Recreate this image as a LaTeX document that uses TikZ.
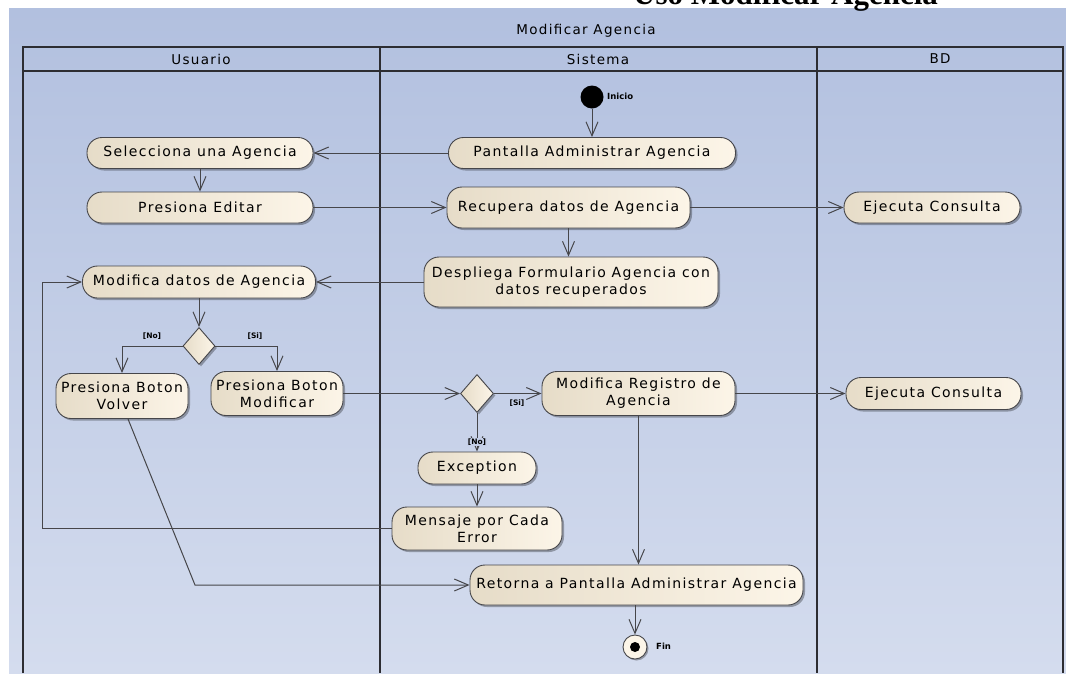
\documentclass[tikz,border=0pt]{standalone}
\usepackage{fontspec}
\newfontfamily\uifont[LetterSpace=10]{DejaVu Sans}
\newfontfamily\tagfont{DejaVu Sans}
\newfontfamily\titlefont{Liberation Serif}
\usetikzlibrary{arrows.meta,shapes.geometric,shadows}
\definecolor{bgtop}{RGB}{178,192,223}
\definecolor{bgbot}{RGB}{212,220,238}
\definecolor{bgmid}{RGB}{196,206,230}
\definecolor{edge}{RGB}{70,70,74}
\definecolor{laneink}{RGB}{45,45,50}
\definecolor{creamL}{RGB}{230,220,200}
\definecolor{creamR}{RGB}{252,245,232}
\begin{document}
\begin{tikzpicture}[x=1pt,y=-1pt,
  act/.style={draw=edge, line width=0.9pt, rounded corners=15pt,
    left color=creamL, right color=creamR,
    drop shadow={shadow xshift=2pt, shadow yshift=-2pt, fill=black, opacity=0.3},
    font=\uifont\fontsize{14}{17}\selectfont, inner sep=1pt, align=center, text=black},
  dec/.style={diamond, draw=edge, line width=0.9pt, inner sep=0pt,
    left color=creamL, right color=creamR,
    drop shadow={shadow xshift=2pt, shadow yshift=-2pt, fill=black, opacity=0.3}},
  flow/.style={draw=edge, line width=1pt, -{Straight Barb[length=14pt,width=12pt]}},
  lane/.style={draw=laneink, line width=1.2pt},
  head/.style={font=\uifont\fontsize{13.5}{16}\selectfont, inner sep=0pt},
  guard/.style={font=\tagfont\bfseries\fontsize{7.5}{9}\selectfont, inner sep=0.6pt},
  mini/.style={font=\tagfont\bfseries\fontsize{8.5}{10}\selectfont, inner sep=0pt}]

\useasboundingbox (0,0) rectangle (1066,673);
\clip (0,0) rectangle (1066,673);
\fill[white] (0,0) rectangle (1066,673);

% frame background
\shade[top color=bgtop, bottom color=bgbot] (9,8) rectangle (1066,673);

% document heading, cut by the top edge
\node[anchor=base west, inner sep=0pt,
  font=\titlefont\bfseries\fontsize{31}{34}\selectfont] (casetitle) at (633,4)
  {Uso Modificar Agencia};

% frame title and swimlanes
\node[head] (frametitle) at (586,31) {Modificar Agencia};
\draw[lane] (23,673) -- (23,47) -- (1063,47) -- (1063,673);
\draw[lane] (23,71) -- (1063,71);
\draw[lane] (380,47) -- (380,673);
\draw[lane] (817,47) -- (817,673);
\node[head] (laneU) at (201,59) {Usuario};
\node[head] (laneS) at (598,59) {Sistema};
\node[head] (laneB) at (940,59) {BD};

% start and end
\node[circle, fill=black, minimum size=23pt, inner sep=0pt] (start) at (592,97) {};
\node[mini, anchor=west] (startlbl) at (607,96) {Inicio};
\node[circle, draw=edge, line width=0.9pt, fill=creamR, minimum size=24pt, inner sep=0pt,
  drop shadow={shadow xshift=1.5pt, shadow yshift=-1.5pt, fill=black, opacity=0.3},
  path picture={\fill[black] (path picture bounding box.center) circle (5pt);}] (fin) at (635,647) {};
\node[mini, anchor=west] (finlbl) at (656,646) {Fin};

% activities
\node[act, minimum width=287, minimum height=31] (pant) at (592,153) {Pantalla Administrar Agencia};
\node[act, minimum width=226, minimum height=31] (sel) at (200,153) {Selecciona una Agencia};
\node[act, minimum width=226, minimum height=31] (edit) at (200,207.5) {Presiona Editar};
\node[act, minimum width=243, minimum height=41] (recu) at (568.5,207.5) {Recupera datos de Agencia};
\node[act, minimum width=176, minimum height=31] (ej1) at (932,207.5) {Ejecuta Consulta};
\node[act, minimum width=294, minimum height=50] (desp) at (571,282) {Despliega Formulario Agencia con\\datos recuperados};
\node[act, minimum width=233, minimum height=32] (moddat) at (199,282) {Modifica datos de Agencia};
\node[dec, minimum width=32, minimum height=37] (dec1) at (199,346) {};
\node[act, minimum width=132, minimum height=45] (volver) at (122,396) {Presiona Boton\\Volver};
\node[act, minimum width=132, minimum height=44] (modbtn) at (277,393.5) {Presiona Boton\\Modificar};
\node[dec, minimum width=33, minimum height=38] (dec2) at (477,393.5) {};
\node[act, minimum width=193, minimum height=44] (modreg) at (638.5,393.5) {Modifica Registro de\\Agencia};
\node[act, minimum width=175, minimum height=32] (ej2) at (933.5,393.5) {Ejecuta Consulta};
\node[act, minimum width=118, minimum height=32] (exc) at (477,468) {Exception};
\node[act, minimum width=170, minimum height=43] (mens) at (477,528.5) {Mensaje por Cada\\Error};
\node[act, minimum width=333, minimum height=40] (ret) at (636.5,585) {Retorna a Pantalla Administrar Agencia};

% flows
\draw[flow] (start.south) -- (start.south |- pant.north);
\draw[flow] (pant) -- (sel);
\draw[flow] (sel) -- (edit);
\draw[flow] (edit) -- (recu);
\draw[flow] (recu) -- (ej1);
\draw[flow] (recu.south) -- (recu.south |- desp.north);
\draw[flow] (desp) -- (moddat);
\draw[flow] (moddat) -- (dec1);
\draw[flow] (dec1.west) -| (volver.north);
\draw[flow] (dec1.east) -| (modbtn.north);
\draw[flow] (modbtn) -- (dec2);
\draw[flow] (dec2) -- (modreg);
\draw[flow] (modreg) -- (ej2);
\draw[flow] (dec2) -- (exc);
\draw[flow] (exc) -- (mens);
\coordinate (backx) at (42,0);
\draw[flow] (mens.west) -| (backx |- moddat.west) -- (moddat.west);
\draw[flow] (modreg.south) -- (modreg.south |- ret.north);
\coordinate (volbend) at (195,585);
\draw[flow] ([xshift=6pt]volver.south) -- (volbend) -- (volbend -| ret.west);
\draw[flow] (fin.north |- ret.south) -- (fin.north);

% guards
\node[guard] (g1no) at (152,336) {[No]};
\node[guard] (g1si) at (255,336) {[Si]};
\node[guard] (g2si) at (517,403) {[Si]};
\node[guard, fill=bgmid] (g2no) at (477,442) {[No]};
\end{tikzpicture}
\end{document}
